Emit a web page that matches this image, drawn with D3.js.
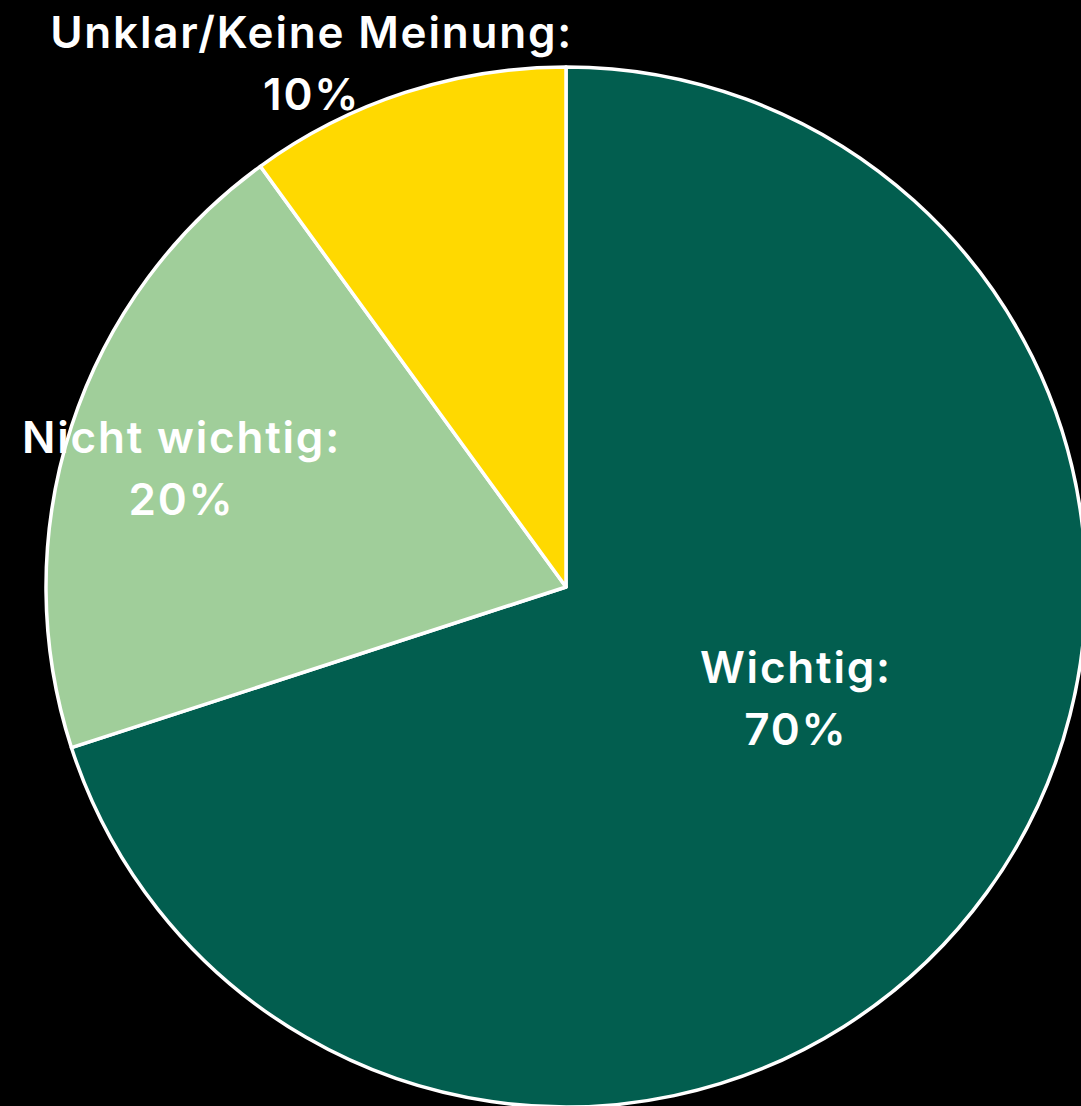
<!DOCTYPE html>
<html>
<head>
<meta charset="utf-8">
<script src="https://cdn.jsdelivr.net/npm/d3@7"></script>
<style>
  html, body { margin: 0; padding: 0; background: #000; }
  svg { display: block; }
</style>
</head>
<body>
<script>
// data
var labels = ["Wichtig", "Nicht wichtig", "Unklar/Keine Meinung"];
var values = [70, 20, 10];
var colors = ["#025E4F", "#A0CE9A", "#FFD900"];

var width = 1081, height = 1106;
var cx = 566, cy = 587, radius = 520;

// label placement: [angle offset from mid in degrees, distance as fraction of radius]
var labelPlace = [[-10, 0.49], [-1, 0.775], [-8, 1.12]];
var spacing = 1.8;

var svg = d3.select("body").append("svg")
    .attr("width", width)
    .attr("height", height);

svg.append("rect").attr("width", width).attr("height", height).style("fill", "#000");

var g = svg.append("g").attr("transform", "translate(" + cx + "," + cy + ")");

var pie = d3.pie().sort(null).value(function(d) { return d; });
var arcs = pie(values);

var arc = d3.arc().innerRadius(0).outerRadius(radius);

g.selectAll("path")
  .data(arcs)
  .enter().append("path")
    .attr("d", arc)
    .style("fill", function(d, i) { return colors[i]; })
    .style("stroke", "#fff")
    .style("stroke-width", 3.5)
    .style("stroke-linejoin", "round");

var lbl = g.selectAll("text.lbl")
  .data(arcs)
  .enter().append("text")
    .attr("class", "lbl")
    .attr("text-anchor", "middle")
    .style("fill", "#fff")
    .style("font-family", "Inter, 'Open Sans', sans-serif")
    .style("font-weight", 600)
    .style("font-size", "44px")
    .style("letter-spacing", spacing + "px")
    .attr("transform", function(d, i) {
      var a = (d.startAngle + d.endAngle) / 2 + labelPlace[i][0] * Math.PI / 180;
      var r = radius * labelPlace[i][1];
      return "translate(" + (r * Math.sin(a) + spacing / 2) + "," + (-r * Math.cos(a)) + ")";
    });

lbl.append("tspan")
  .attr("x", 0)
  .attr("y", -16)
  .text(function(d, i) { return labels[i] + ":"; });

lbl.append("tspan")
  .attr("x", 0)
  .attr("y", 46)
  .text(function(d, i) { return values[i] + "%"; });
</script>
</body>
</html>
